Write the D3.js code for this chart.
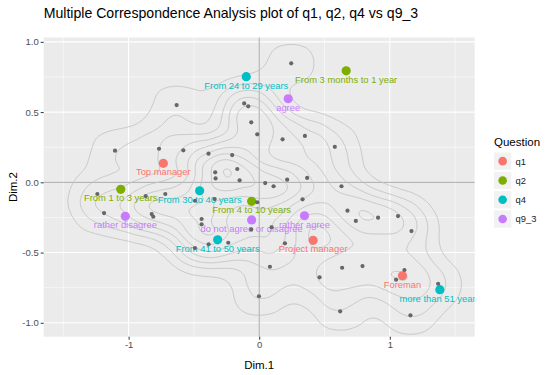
<!DOCTYPE html>
<html>
<head>
<meta charset="utf-8">
<script src="https://cdn.jsdelivr.net/npm/d3@7"></script>
<style>
  html, body { margin: 0; padding: 0; background: #ffffff; }
  svg { display: block; font-family: "Liberation Sans", Arial, sans-serif; }
</style>
</head>
<body>
<svg id="chart" width="550" height="375"></svg>
<script>
// ---------------- DATA ----------------
// Individuals (grey dots): Dim.1 / Dim.2
const indX = [-1.104,-0.767,-0.581,-0.388,-0.207,-0.337,-0.168,-0.334,-0.150,0.046,0.110,
  -1.239,-1.188,-0.869,-0.719,-0.823,-0.811,-0.492,-0.341,-0.015,-0.441,-0.441,-0.061,
  -0.387,-0.237,-0.492,-0.632,-0.115,-0.084,-0.061,-0.015,0.179,0.245,0.350,0.579,0.214,
  0.367,0.630,0.332,0.676,0.740,0.910,1.063,1.166,0.095,0.197,0.082,0.462,0.635,0.791,
  1.112,1.048,1.370,-0.002,0.620,1.158];
const indY = [0.225,0.239,0.228,0.204,0.194,0.071,0.095,0.028,0.014,-0.005,-0.028,
  -0.083,-0.219,-0.098,-0.083,-0.226,-0.245,-0.131,-0.119,-0.142,-0.261,-0.299,-0.335,
  -0.441,-0.430,-0.468,0.550,0.562,0.541,0.427,0.342,0.306,0.847,0.330,0.253,0.019,
  0.031,-0.028,-0.121,-0.202,-0.275,-0.252,-0.240,-0.347,-0.320,-0.434,-0.601,-0.676,-0.608,-0.596,
  -0.624,-0.693,-0.722,-0.811,-0.918,-0.947];

// Categories
const catLabels = ["Top manager","Project manager","Foreman",
  "From 3 months to 1 year","From 1 to 3 years","From 4 to 10 years",
  "From 24 to 29 years","From 30 to 40 years","From 41 to 50 years","more than 51 years",
  "agree","rather disagree","do not agree or disagree","rather agree"];
const catGroup = ["q1","q1","q1","q2","q2","q2","q4","q4","q4","q4","q9_3","q9_3","q9_3","q9_3"];
const catX = [-0.734,0.413,1.097, 0.666,-1.060,-0.058, -0.099,-0.456,-0.318,1.383, 0.222,-1.025,-0.058,0.347];
const catY = [0.135,-0.413,-0.665, 0.794,-0.050,-0.135, 0.752,-0.060,-0.409,-0.764, 0.595,-0.242,-0.268,-0.238];

const groups = ["q1","q2","q4","q9_3"];
const groupColors = ["#F8766D","#7CAE00","#00BFC4","#C77CFF"];

const xTicks = [-1, 0, 1];
const yTicks = [-1, -0.5, 0, 0.5, 1];
const xMinor = [-1.5, -0.5, 0.5, 1.5];
const yMinor = [-0.75, -0.25, 0.25, 0.75];

// ---------------- LAYOUT ----------------
const svg = d3.select("#chart");
const W = 550, H = 375;
const P = {left: 43.7, right: 474.7, top: 37.5, bottom: 336.7};

const x = d3.scaleLinear().domain([-1.65, 1.65]).range([P.left, P.right]);
const y = d3.scaleLinear().domain([-1.099, 1.031]).range([P.bottom, P.top]);
const color = d3.scaleOrdinal().domain(groups).range(groupColors);

// Panel background
svg.append("rect").attr("x", P.left).attr("y", P.top)
  .attr("width", P.right - P.left).attr("height", P.bottom - P.top)
  .attr("fill", "#EBEBEB");

svg.append("clipPath").attr("id", "panelClip").append("rect")
  .attr("x", P.left).attr("y", P.top)
  .attr("width", P.right - P.left).attr("height", P.bottom - P.top);

const grid = svg.append("g");
grid.selectAll(".xminor").data(xMinor).join("line")
  .attr("x1", d => x(d)).attr("x2", d => x(d)).attr("y1", P.top).attr("y2", P.bottom)
  .attr("stroke", "#fff").attr("stroke-width", 0.55);
grid.selectAll(".yminor").data(yMinor).join("line")
  .attr("y1", d => y(d)).attr("y2", d => y(d)).attr("x1", P.left).attr("x2", P.right)
  .attr("stroke", "#fff").attr("stroke-width", 0.55);
grid.selectAll(".xmajor").data(xTicks).join("line")
  .attr("x1", d => x(d)).attr("x2", d => x(d)).attr("y1", P.top).attr("y2", P.bottom)
  .attr("stroke", "#fff").attr("stroke-width", 1.1);
grid.selectAll(".ymajor").data(yTicks).join("line")
  .attr("y1", d => y(d)).attr("y2", d => y(d)).attr("x1", P.left).attr("x2", P.right)
  .attr("stroke", "#fff").attr("stroke-width", 1.1);

// Reference lines at 0
svg.append("line").attr("x1", x(0)).attr("x2", x(0)).attr("y1", P.top).attr("y2", P.bottom)
  .attr("stroke", "#A6A6A6").attr("stroke-width", 1);
svg.append("line").attr("y1", y(0)).attr("y2", y(0)).attr("x1", P.left).attr("x2", P.right)
  .attr("stroke", "#A6A6A6").attr("stroke-width", 1);

// Density contours of individuals
const pts = indX.map((v, i) => [v, indY[i]]);
const k = 1.2;
const contours = d3.contourDensity()
  .x(d => x(d[0]))
  .y(d => y(d[1]) * k)
  .size([W, H * k])
  .cellSize(2)
  .bandwidth(20)
  .thresholds(10)(pts);
const unscale = d3.geoTransform({ point(px, py) { this.stream.point(px, py / k); } });
const cpath = d3.geoPath(unscale);
svg.append("g").attr("clip-path", "url(#panelClip)")
  .selectAll("path").data(contours).join("path")
  .attr("d", cpath).attr("fill", "none")
  .attr("stroke", "#C4C4C4").attr("stroke-width", 0.9);

// Category points and labels
const cats = catLabels.map((l, i) => ({label: l, g: catGroup[i], x: catX[i], y: catY[i]}));
const cg = svg.append("g").attr("clip-path", "url(#panelClip)");
cg.selectAll("circle").data(cats).join("circle")
  .attr("cx", d => x(d.x)).attr("cy", d => y(d.y)).attr("r", 4.6)
  .attr("fill", d => color(d.g));
cg.selectAll("text").data(cats).join("text")
  .attr("x", d => x(d.x)).attr("y", d => y(d.y) + 12)
  .attr("text-anchor", "middle").attr("font-size", 9.4)
  .attr("fill", d => color(d.g)).text(d => d.label);

// Individuals on top
svg.append("g").selectAll("circle").data(pts).join("circle")
  .attr("cx", d => x(d[0])).attr("cy", d => y(d[1])).attr("r", 2.1)
  .attr("fill", "#666666");

// Axes
const xAxis = svg.append("g").attr("transform", `translate(0,${P.bottom})`)
  .call(d3.axisBottom(x).tickValues(xTicks).tickSize(3).tickPadding(2).tickFormat(d3.format("d")));
const yAxis = svg.append("g").attr("transform", `translate(${P.left},0)`)
  .call(d3.axisLeft(y).tickValues(yTicks).tickSize(3).tickPadding(2).tickFormat(d3.format(".1f")));
[xAxis, yAxis].forEach(a => {
  a.select(".domain").remove();
  a.selectAll(".tick line").attr("stroke", "#333333").attr("stroke-width", 1);
  a.selectAll(".tick text").attr("fill", "#4D4D4D").attr("font-size", 9.5)
    .attr("font-family", "Liberation Sans, Arial, sans-serif");
});
xAxis.selectAll(".tick text").text(d => d < 0 ? "-" + Math.abs(d) : d);
yAxis.selectAll(".tick text").text(d => (d < 0 ? "-" : "") + Math.abs(d).toFixed(1));

// Axis titles
svg.append("text").attr("x", (P.left + P.right) / 2).attr("y", 369)
  .attr("text-anchor", "middle").attr("font-size", 11.5).attr("fill", "#000").text("Dim.1");
svg.append("text").attr("transform", `translate(17,${(P.top + P.bottom) / 2}) rotate(-90)`)
  .attr("text-anchor", "middle").attr("font-size", 11.5).attr("fill", "#000").text("Dim.2");

// Title
svg.append("text").attr("x", P.left).attr("y", 18)
  .attr("font-size", 14.1).attr("fill", "#000")
  .text("Multiple Correspondence Analysis plot of q1, q2, q4 vs q9_3");

// Legend
const lg = svg.append("g");
lg.append("text").attr("x", 494).attr("y", 146).attr("font-size", 11.5).attr("fill", "#000").text("Question");
const items = lg.selectAll(".item").data(groups).join("g")
  .attr("transform", (d, i) => `translate(494,${152.5 + i * 19.3})`);
items.append("rect").attr("width", 17.3).attr("height", 17.3).attr("fill", "#F2F2F2");
items.append("circle").attr("cx", 8.65).attr("cy", 8.65).attr("r", 4.3).attr("fill", d => color(d));
items.append("text").attr("x", 21.5).attr("y", 12).attr("font-size", 9.4).attr("fill", "#1A1A1A").text(d => d);
</script>
</body>
</html>
